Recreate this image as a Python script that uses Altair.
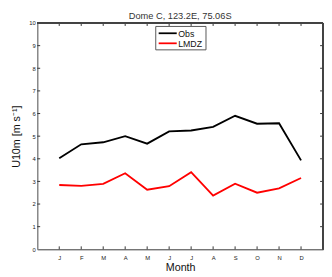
import altair as alt
import pandas as pd

months = ["J", "F", "M", "A", "M", "J", "J", "A", "S", "O", "N", "D"]
month_num = list(range(1, 13))
obs = [4.02, 4.64, 4.73, 5.00, 4.67, 5.21, 5.25, 5.41, 5.90, 5.55, 5.57, 3.93]
lmdz = [2.84, 2.80, 2.89, 3.36, 2.63, 2.79, 3.41, 2.37, 2.90, 2.50, 2.69, 3.15]
series = ["Obs", "LMDZ"]
colors = ["#000000", "#ff0000"]
y_ticks = list(range(0, 11))
title_text = "Dome C, 123.2E, 75.06S"

rows = []
for m, o in zip(month_num, obs):
    rows.append({"m": m, "v": o, "s": "Obs"})
for m, l in zip(month_num, lmdz):
    rows.append({"m": m, "v": l, "s": "LMDZ"})
df = pd.DataFrame(rows)

W, H = 293, 232
FONT = "Liberation Sans"
label_expr = "[" + ",".join("'%s'" % s for s in months) + "][datum.value-1]"

xscale = alt.Scale(domain=[0, 13], nice=False, zero=False)
yscale = alt.Scale(domain=[0, 10], nice=False)

x_axis = alt.Axis(values=month_num, labelExpr=label_expr, grid=False,
                  ticks=False, domain=True, domainColor="#444",
                  labelFontSize=6, labelColor="#222", labelPadding=5,
                  labelOverlap=False, labelBound=False,
                  titleFontSize=11, titleFont=FONT, titleFontWeight="normal",
                  titlePadding=2, labelFont=FONT, titleColor="#111")
y_axis = alt.Axis(values=y_ticks, grid=False, ticks=False,
                  domainColor="#888", domainWidth=1.5,
                  labelFontSize=6, labelColor="#222", labelPadding=2,
                  labelOverlap=False, labelBound=False,
                  titleFontSize=11, titleFont=FONT, titleFontWeight="normal",
                  titlePadding=8, labelFont=FONT, titleColor="#111")
XT = "Month"
YT = "U10m [m s\u207b\u00b9]"

lines = alt.Chart(df).mark_line(strokeWidth=1.9).encode(
    x=alt.X("m:Q", scale=xscale, title=XT, axis=x_axis),
    y=alt.Y("v:Q", scale=yscale, title=YT, axis=y_axis),
    color=alt.Color("s:N", scale=alt.Scale(domain=series, range=colors), legend=None),
)

xt = pd.DataFrame({"m": month_num})
yt = pd.DataFrame({"v": y_ticks[1:-1]})

tick_color = "#333"
xb = alt.Chart(xt).mark_rule(color=tick_color, strokeWidth=1).encode(
    x=alt.X("m:Q", scale=xscale, title=XT, axis=x_axis), y=alt.value(H), y2=alt.value(H - 3))
xtp = alt.Chart(xt).mark_rule(color=tick_color, strokeWidth=1).encode(
    x=alt.X("m:Q", scale=xscale, title=XT, axis=x_axis), y=alt.value(0), y2=alt.value(3))
yl = alt.Chart(yt).mark_rule(color=tick_color, strokeWidth=1).encode(
    y=alt.Y("v:Q", scale=yscale, title=YT, axis=y_axis), x=alt.value(0), x2=alt.value(3))
yr = alt.Chart(yt).mark_rule(color=tick_color, strokeWidth=1).encode(
    y=alt.Y("v:Q", scale=yscale, title=YT, axis=y_axis), x=alt.value(W), x2=alt.value(W - 3))
top = alt.Chart(xt).mark_rule(color="#444", strokeWidth=1).encode(
    x=alt.value(0), x2=alt.value(W), y=alt.value(0))
right = alt.Chart(xt).mark_rule(color="#444", strokeWidth=1).encode(
    x=alt.value(W), y=alt.value(0), y2=alt.value(H))

title_mark = alt.Chart(pd.DataFrame({"t": [title_text]})).mark_text(
    align="center", baseline="alphabetic", font=FONT, fontSize=9.5, color="#333"
).encode(text="t:N", x=alt.value(W / 2), y=alt.value(-4))

# legend (drawn manually, MATLAB-style box)
one = pd.DataFrame({"k": [0]})
leg_box = alt.Chart(one).mark_rect(fill="white", stroke="#555", strokeWidth=1).encode(
    x=alt.value(121.5), x2=alt.value(173), y=alt.value(3.5), y2=alt.value(27.5))
leg_layers = [leg_box]
for i, (name, col) in enumerate(zip(series, colors)):
    yy = 10.5 + i * 10.3
    d = pd.DataFrame({"s": [name]})
    leg_layers.append(alt.Chart(d).mark_rule(color=col, strokeWidth=1.8).encode(
        x=alt.value(124.5), x2=alt.value(143), y=alt.value(yy)))
    leg_layers.append(alt.Chart(d).mark_text(align="left", baseline="middle", font=FONT,
                                             fontSize=9, color="#111").encode(
        text="s:N", x=alt.value(144.5), y=alt.value(yy + 0.5)))

chart = alt.layer(lines, xb, xtp, yl, yr, top, right, title_mark, *leg_layers).properties(
    width=W, height=H,
    autosize=alt.AutoSizeParams(type="none"),
    padding={"left": 30, "top": 12, "right": 1, "bottom": 25},
).configure_view(stroke=None).configure(background="white")

chart.save("out.html", embed_options={"renderer": "svg", "actions": False})
